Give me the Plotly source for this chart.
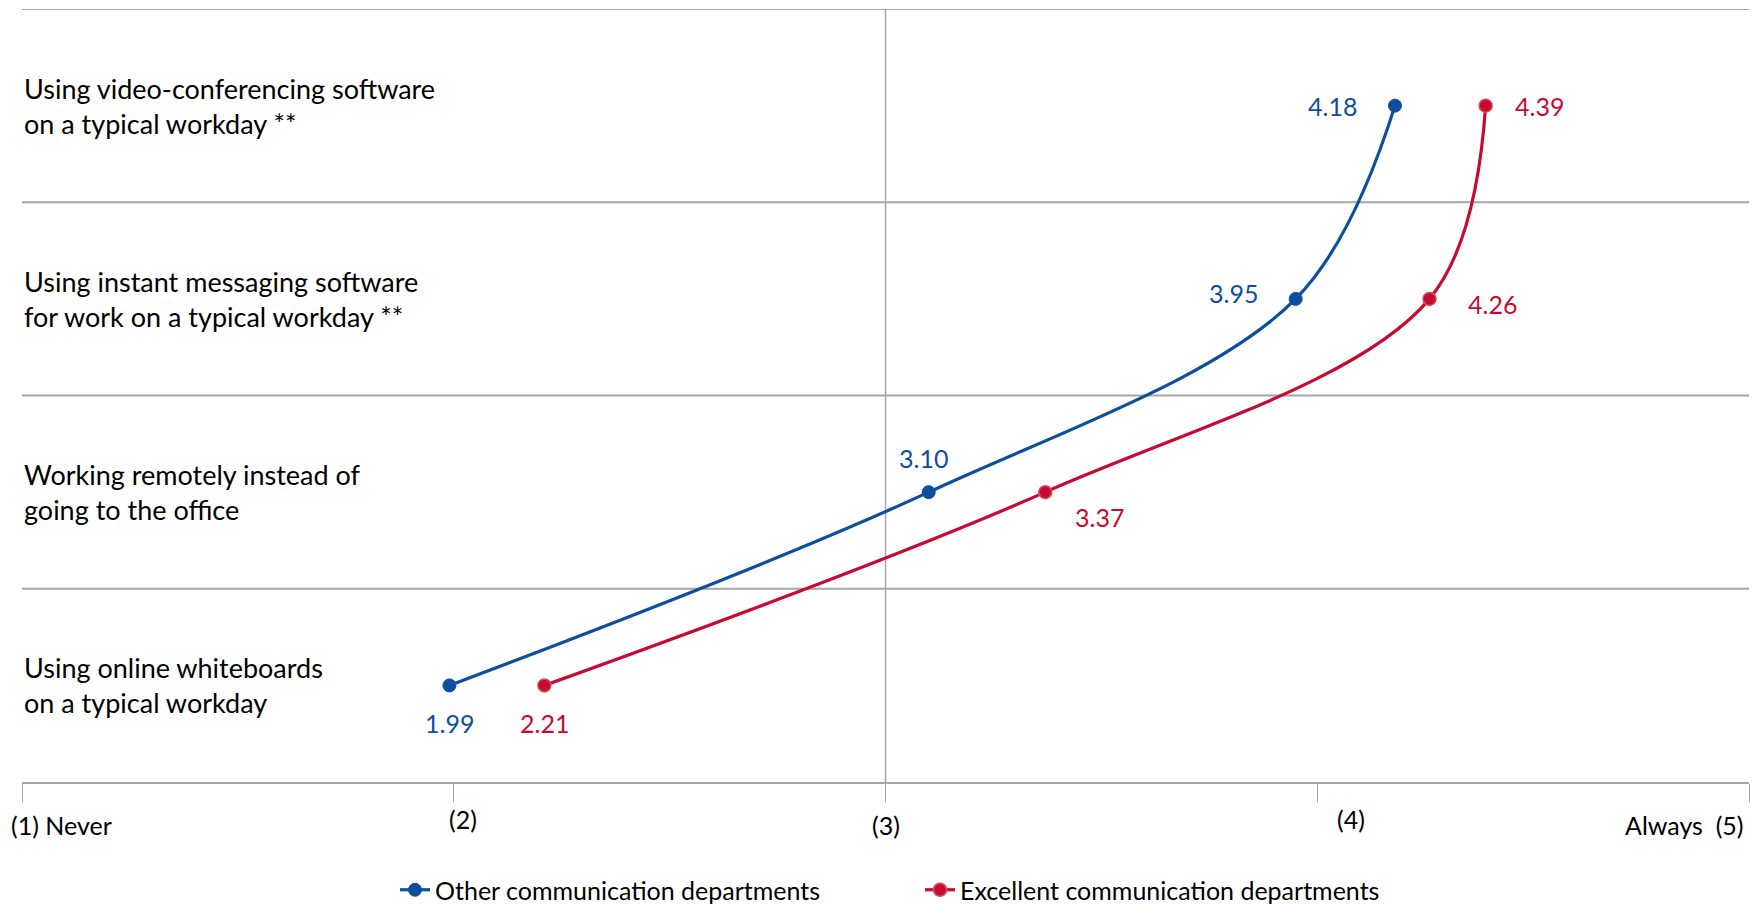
import plotly.graph_objects as go

# ---- data ----
categories = [
    "Using online whiteboards<br>on a typical workday",
    "Working remotely instead of<br>going to the office",
    "Using instant messaging software<br>for work on a typical workday **",
    "Using video-conferencing software<br>on a typical workday **",
]
other_values = [1.99, 3.10, 3.95, 4.18]
excellent_values = [2.21, 3.37, 4.26, 4.39]
series_names = ["Other communication departments", "Excellent communication departments"]
tick_vals = [1, 2, 3, 4, 5]
tick_text = ["(1) Never", "(2)", "(3)", "(4)", "Always\u00a0 (5)"]

# ---- style ----
BLUE = "#0D4E9E"
RED = "#C80A32"
GRID = "#A6A6A6"
FONT = "Lato"
W, H = 1760, 904
ML, MR, MT, MB = 22, 11, 9, 122
plot_w = W - ML - MR
plot_h = H - MT - MB

ypos = list(range(len(categories)))

fig = go.Figure()
fig.add_trace(go.Scatter(
    x=other_values, y=ypos, name=series_names[0], mode="lines+markers",
    line=dict(color=BLUE, width=3.2, shape="spline", smoothing=1.0),
    marker=dict(color=BLUE, size=13, line=dict(color=BLUE, width=1)),
))
fig.add_trace(go.Scatter(
    x=excellent_values, y=ypos, name=series_names[1], mode="lines+markers",
    line=dict(color=RED, width=3.2, shape="spline", smoothing=1.0),
    marker=dict(color=RED, size=13, line=dict(color="#D0505A", width=1.5)),
))

# data labels (offsets in px)
other_off = [(0, -38), (-5, 34), (-62, 6), (-62, 0)]
exc_off = [(0, -38), (54, -25), (63, -5), (54, 0)]
ann = []
for vals, offs, col in [(other_values, other_off, BLUE), (excellent_values, exc_off, RED)]:
    for v, yy, (dx, dy) in zip(vals, ypos, offs):
        ann.append(dict(x=v, y=yy, xref="x", yref="y", text=f"{v:.2f}", showarrow=False,
                        xanchor="center", yanchor="middle", xshift=dx, yshift=dy,
                        font=dict(family=FONT, size=25, color=col)))

# category labels
for c, yy in zip(categories, ypos):
    ann.append(dict(x=0, y=yy, xref="paper", yref="y", text=c, showarrow=False,
                    xanchor="left", yanchor="middle", align="left",
                    font=dict(family=FONT, size=27, color="#000000")))

# x tick labels
tick_anchor = ["left", "center", "center", "center", "right"]
tick_dx = [-13, 9, 0, 34, -3]
tick_ypx = [825, 819, 825, 819, 825]
for v, t, a, dx, ypx in zip(tick_vals, tick_text, tick_anchor, tick_dx, tick_ypx):
    ann.append(dict(x=v, y=(H - MB - ypx) / plot_h, xref="x", yref="paper", text=t,
                    showarrow=False, xanchor=a, yanchor="middle", xshift=dx,
                    font=dict(family=FONT, size=25, color="#000000")))

shapes = []
for g in [0.5, 1.5, 2.5, 3.5]:
    shapes.append(dict(type="line", xref="paper", yref="y", x0=0, x1=1, y0=g, y1=g,
                       line=dict(color=GRID, width=2), layer="below"))
shapes.append(dict(type="line", xref="x", yref="paper", x0=3, x1=3, y0=0, y1=1,
                   line=dict(color=GRID, width=1.5), layer="below"))

fig.update_layout(
    width=W, height=H,
    margin=dict(l=ML, r=MR, t=MT, b=MB, autoexpand=False),
    plot_bgcolor="white", paper_bgcolor="white",
    font=dict(family=FONT, size=25, color="#000000"),
    xaxis=dict(range=[1, 5], tickvals=tick_vals, showticklabels=False, ticks="outside",
               ticklen=18, tickcolor=GRID, tickwidth=1, showgrid=False, zeroline=False,
               showline=True, linecolor=GRID, linewidth=2),
    yaxis=dict(range=[-0.5, 3.5], showticklabels=False, showgrid=False, zeroline=False,
               showline=False),
    showlegend=True,
    legend=dict(orientation="h", x=(395 - ML) / plot_w, xanchor="left",
                y=(H - MB - 890) / plot_h, yanchor="middle",
                font=dict(family=FONT, size=25, color="#000000"),
                entrywidth=480, entrywidthmode="pixels", tracegroupgap=0),
    annotations=ann, shapes=shapes,
)

fig.write_html("out.html", config={"displayModeBar": False},
               post_script="document.body.style.margin='0px';document.body.style.overflow='hidden';")
